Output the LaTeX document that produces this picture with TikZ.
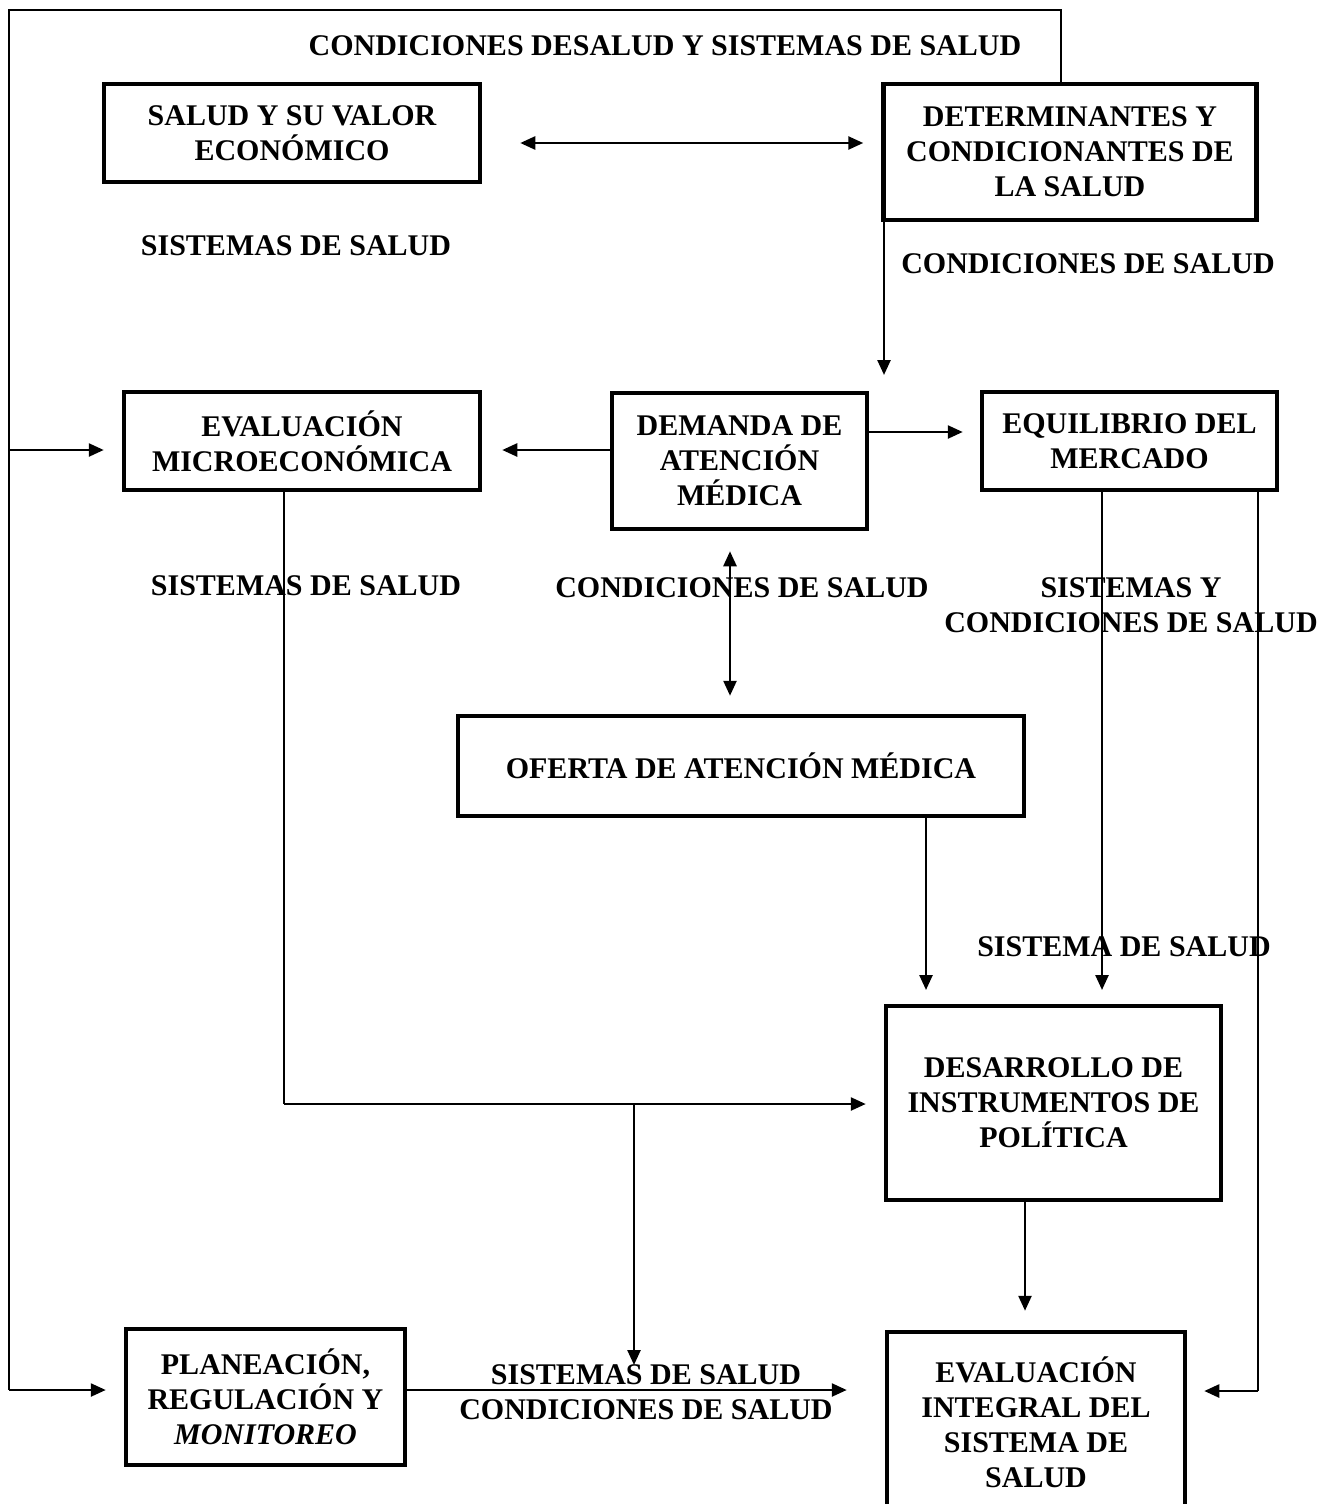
\documentclass[tikz,border=0pt]{standalone}
\usepackage{fontspec}
\setmainfont{Liberation Serif}
\usetikzlibrary{arrows.meta}
\tikzset{
  box/.style={draw, line width=4.5pt, align=center, inner sep=0pt,
    font=\fontsize{30}{35}\selectfont\bfseries},
  lbl/.style={align=center, inner sep=0pt,
    font=\fontsize{30}{35}\selectfont\bfseries},
  tip/.style={Triangle[length=15pt,width=13pt]},
  conn/.style={line width=2.5pt, -{Triangle[length=15pt,width=13pt]}},
  both/.style={line width=2.5pt, {Triangle[length=15pt,width=13pt]}-{Triangle[length=15pt,width=13pt]}},
  plain/.style={line width=2.5pt}
}
\begin{document}
\begin{tikzpicture}[x=1pt, y=-1pt]
\useasboundingbox (0,0) rectangle (1332,1504);

% boxes
\node[box, minimum width=376pt, minimum height=98pt] (salud) at (292,133)
  {SALUD Y SU VALOR\\ECONÓMICO};
\node[box, minimum width=373pt, minimum height=136pt] (deter) at (1070,152)
  {DETERMINANTES Y\\CONDICIONANTES DE\\LA SALUD};
\node[box, minimum width=356pt, minimum height=98pt] (micro) at (302,441)
  {EVALUACIÓN\\MICROECONÓMICA};
\node[box, minimum width=255pt, minimum height=136pt] (dem) at (739.5,461)
  {DEMANDA DE\\ATENCIÓN\\MÉDICA};
\node[box, minimum width=295pt, minimum height=98pt] (equi) at (1129.5,441)
  {EQUILIBRIO DEL\\MERCADO};
\node[box, minimum width=566pt, minimum height=100pt] (ofer) at (741,766)
  {OFERTA DE ATENCIÓN MÉDICA};
\node[box, minimum width=335pt, minimum height=194pt] (desa) at (1053.5,1103)
  {DESARROLLO DE\\INSTRUMENTOS DE\\POLÍTICA};
\node[box, minimum width=279pt, minimum height=136pt] (plan) at (265.5,1397)
  {PLANEACIÓN,\\REGULACIÓN Y\\\textit{MONITOREO}};
\node[box, minimum width=298pt, minimum height=180pt] (inte) at (1036,1422)
  {EVALUACIÓN\\INTEGRAL DEL\\SISTEMA DE\\SALUD};

% free ends and bends of connectors
\coordinate (tl) at (9,10);
\coordinate (tr) at (1061,10);
\coordinate (bl) at (9,1390);
\coordinate (ml) at (9,450);
\coordinate (dtip) at (884,375);
\coordinate (mc) at (284,1104);
\coordinate (br) at (634,1104);
\coordinate (brtip) at (634,1365);
\coordinate (ofertip) at (926,990);
\coordinate (equitip) at (1102,990);
\coordinate (eqr) at (1258,1391);

% feedback loop round the top and left
\draw[plain] (deter.north -| tr) -- (tr) -- (tl) -- (bl);
\draw[conn] (ml) -- ([xshift=-18pt]micro.west |- ml);
\draw[conn] (bl) -- ([xshift=-18pt]plan.west |- bl);

% top row
\draw[both] ([xshift=38pt]salud.east |- 0,143) -- ([xshift=-18pt]deter.west |- 0,143);
\draw[conn] (deter.south -| dtip) -- (dtip);

% middle row
\draw[conn] (dem.west |- 0,450) -- ([xshift=20pt]micro.east |- 0,450);
\draw[conn] (dem.east |- 0,432) -- ([xshift=-17pt]equi.west |- 0,432);
\draw[both] ([yshift=-20pt]dem.south -| 730,0) -- ([yshift=18pt]ofer.north -| 730,0);

% lower connectors
\draw[plain] (micro.south -| mc) -- (mc);
\draw[conn] (mc) -- ([xshift=-18pt]desa.west |- mc);
\draw[conn] (br) -- (brtip);
\draw[conn] (ofer.south -| ofertip) -- (ofertip);
\draw[conn] (equi.south -| equitip) -- (equitip);
\draw[plain] (equi.south -| eqr) -- (eqr);
\draw[conn] (eqr) -- ([xshift=17pt]inte.east |- eqr);
\draw[conn] (desa.south -| 1025,0) -- ([yshift=19pt]inte.north -| 1025,0);
\draw[conn] (plan.east |- 0,1390) -- ([xshift=-38pt]inte.west |- 0,1390);

% labels
\node[lbl] (l1) at (665,46) {CONDICIONES DESALUD Y SISTEMAS DE SALUD};
\node[lbl] (l2) at (296,246) {SISTEMAS DE SALUD};
\node[lbl] (l3) at (1088,264) {CONDICIONES DE SALUD};
\node[lbl] (l4) at (306,586) {SISTEMAS DE SALUD};
\node[lbl] (l5) at (742,588) {CONDICIONES DE SALUD};
\node[lbl] (l6) at (1131,605) {SISTEMAS Y\\CONDICIONES DE SALUD};
\node[lbl] (l7) at (1124,947) {SISTEMA DE SALUD};
\node[lbl] (l8) at (646,1392) {SISTEMAS DE SALUD\\CONDICIONES DE SALUD};
\end{tikzpicture}
\end{document}
